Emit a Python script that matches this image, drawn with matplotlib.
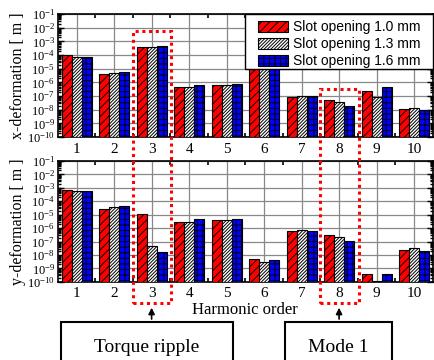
import numpy as np
import matplotlib
matplotlib.use("Agg")
import matplotlib.pyplot as plt
from matplotlib.patches import Rectangle, FancyArrowPatch
from matplotlib import transforms
from matplotlib.ticker import LogLocator, NullFormatter, FixedLocator

plt.rcParams['font.family'] = ['Liberation Serif', 'DejaVu Serif']
plt.rcParams['mathtext.fontset'] = 'stix'
plt.rcParams['hatch.linewidth'] = 0.7

# harmonic orders and deformation amplitudes [m]
orders = [1, 2, 3, 4, 5, 6, 7, 8, 9, 10]
labels = ['Slot opening 1.0 mm', 'Slot opening 1.3 mm', 'Slot opening 1.6 mm']

x_def_10 = [1.0e-4, 4.1e-6, 4.1e-4, 4.4e-7, 6.5e-7, 1.0e-4, 8.9e-8, 5.1e-8, 2.3e-7, 1.1e-8]
x_def_13 = [7.6e-5, 5.1e-6, 4.1e-4, 4.4e-7, 6.5e-7, 8.0e-5, 1.07e-7, 3.5e-8, 8.1e-8, 1.4e-8]
x_def_16 = [7.6e-5, 6.0e-6, 4.6e-4, 6.5e-7, 7.6e-7, 8.0e-5, 9.5e-8, 1.8e-8, 4.4e-7, 8.9e-9]

y_def_10 = [6.9e-4, 2.8e-5, 1.17e-5, 2.7e-6, 4.0e-6, 5.1e-9, 6.0e-7, 3.0e-7, 3.1e-10, 2.3e-8]
y_def_13 = [5.8e-4, 3.5e-5, 4.6e-8, 2.7e-6, 4.0e-6, 2.8e-9, 7.1e-7, 2.1e-7, 1e-11, 3.1e-8]
y_def_16 = [5.8e-4, 4.2e-5, 1.8e-8, 4.7e-6, 4.7e-6, 3.9e-9, 6.3e-7, 1.15e-7, 2.6e-10, 1.9e-8]

styles = [dict(color='#ff0000', hatch='////'),
          dict(color='white', hatch='//////////'),
          dict(color='#0000ff', hatch='+++')]

fig = plt.figure(figsize=(4.35, 3.6), dpi=100)
ax1 = fig.add_axes([0.133, 0.619, 0.862, 0.342])
ax2 = fig.add_axes([0.133, 0.217, 0.862, 0.336])

x = np.array(orders)
w = 0.267
for ax, series, ylab in [(ax1, [x_def_10, x_def_13, x_def_16], 'x-deformation [ m ]'),
                         (ax2, [y_def_10, y_def_13, y_def_16], 'y-deformation [ m ]')]:
    for i, (vals, st) in enumerate(zip(series, styles)):
        ax.bar(x + (i - 1) * w, vals, width=w, bottom=1e-10, color=st['color'],
               hatch=st['hatch'], edgecolor='black', linewidth=0.8,
               label=labels[i], zorder=3)
    ax.set_yscale('log')
    ax.set_ylim(1e-10, 1e-1)
    ax.set_xlim(0.5, 10.5)
    ax.yaxis.set_major_locator(LogLocator(base=10, numticks=20))
    ax.yaxis.set_minor_locator(LogLocator(base=10, subs=np.arange(2, 10), numticks=20))
    ax.yaxis.set_minor_formatter(NullFormatter())
    ax.set_xticks(orders)
    ax.set_xticklabels([str(o) for o in orders])
    ax.xaxis.set_minor_locator(FixedLocator(np.arange(1.5, 10.5, 1)))
    ax.tick_params(axis='x', which='major', length=0, labelsize=11, pad=4)
    ax.tick_params(axis='x', which='minor', direction='in', length=3, width=1.2,
                   top=True, bottom=True)
    ax.tick_params(axis='y', which='major', direction='in', length=4, width=1,
                   left=True, right=True, labelsize=9, pad=2)
    ax.tick_params(axis='y', which='minor', direction='in', length=2.5, width=1,
                   left=True, right=True)
    ax.grid(True, which='major', color='#888888', linewidth=0.9, zorder=0)
    ax.set_axisbelow(True)
    for s in ax.spines.values():
        s.set_linewidth(1.2)
    ax.set_ylabel(ylab, fontsize=11.5, labelpad=1)

ax2.set_xlabel('Harmonic order', fontsize=12, labelpad=1)

# legend frame drawn by hand so the padding can be set freely
ax1.add_patch(Rectangle((0.499, 0.553), 0.501, 0.447, transform=ax1.transAxes,
                        facecolor='white', edgecolor='black', linewidth=1,
                        zorder=4, clip_on=False))
leg = ax1.legend(loc='upper left', bbox_to_anchor=(0.535, 0.95), borderaxespad=0,
                 borderpad=0, frameon=False, handlelength=2.1, handleheight=0.8,
                 handletextpad=0.4, labelspacing=0.22,
                 prop=dict(family='Liberation Sans', size=10))
leg.set_zorder(5)

# dotted highlight frames spanning both panels
blend = transforms.blended_transform_factory(ax1.transData, fig.transFigure)
for cx, ytop in [(3, 0.914), (8, 0.753)]:
    fig.add_artist(Rectangle((cx - 0.5, 0.158), 1.03, ytop - 0.158, transform=blend,
                             fill=False, edgecolor='red', linestyle=(0, (1, 1.2)),
                             linewidth=2.2, zorder=10))
    fig.add_artist(FancyArrowPatch((cx, 0.106), (cx, 0.153), transform=blend,
                                   arrowstyle='-|>', mutation_scale=9,
                                   color='black', linewidth=1.2))

# annotation boxes below the chart
for x0, x1, text in [(0.140, 0.536, 'Torque ripple'), (0.655, 0.901, 'Mode 1')]:
    fig.add_artist(Rectangle((x0, -0.2), x1 - x0, 0.306, transform=fig.transFigure,
                             fill=False, edgecolor='black', linewidth=1.5))
    fig.text((x0 + x1) / 2, 0.036, text, ha='center', va='center', fontsize=14)

fig.savefig('out.png', dpi=100)
